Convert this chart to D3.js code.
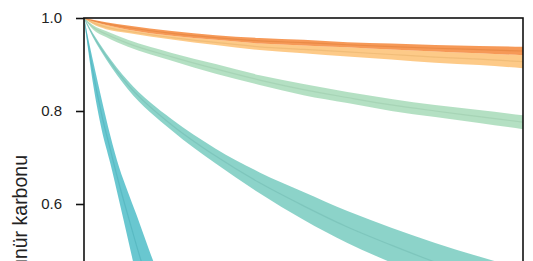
<!DOCTYPE html>
<html>
<head>
<meta charset="utf-8">
<script src="https://cdn.jsdelivr.net/npm/d3@7"></script>
<style>
  body { margin: 0; background: #fff; }
  svg { display: block; font-family: "Liberation Sans", Arial, sans-serif; }
</style>
</head>
<body>
<div id="wrapper"></div>
<script>
// time steps (years) for the slower bands
const years = [0, 2, 5, 10, 20, 30, 40, 50, 60, 70, 80, 90, 100];
// fast band needs finer steps
const yearsFast = [0, 2, 4, 6, 8, 10, 12, 14, 16, 18, 20];

const darkOrangeHi = [1.0, 0.996, 0.991, 0.984, 0.972, 0.963, 0.957, 0.953, 0.948, 0.945, 0.942, 0.940, 0.938];
const darkOrangeLo = [1.0, 0.993, 0.985, 0.975, 0.962, 0.953, 0.945, 0.941, 0.937, 0.932, 0.928, 0.924, 0.920];
const lightOrangeHi = darkOrangeLo;
const lightOrangeLo = [1.0, 0.987, 0.976, 0.968, 0.954, 0.942, 0.931, 0.924, 0.917, 0.911, 0.904, 0.899, 0.892];
const greenHi = [1.0, 0.985, 0.972, 0.953, 0.925, 0.901, 0.877, 0.858, 0.841, 0.826, 0.813, 0.802, 0.791];
const greenLo = [1.0, 0.976, 0.959, 0.938, 0.908, 0.880, 0.856, 0.834, 0.817, 0.800, 0.787, 0.774, 0.761];
const tealHi = [1.0, 0.968, 0.925, 0.865, 0.782, 0.719, 0.668, 0.626, 0.585, 0.549, 0.516, 0.487, 0.460];
const tealLo = [1.0, 0.959, 0.912, 0.847, 0.758, 0.687, 0.623, 0.566, 0.516, 0.474, 0.434, 0.399, 0.366];
const cyanHi = [1.0, 0.910, 0.826, 0.747, 0.679, 0.626, 0.576, 0.523, 0.472, 0.430, 0.390];
const cyanLo = [1.0, 0.862, 0.761, 0.687, 0.607, 0.525, 0.443, 0.370, 0.300, 0.240, 0.190];

const yTicks = [0.0, 0.2, 0.4, 0.6, 0.8, 1.0];
const yLabel = "Kalan görünür karbonu";

let bands = [
  { t: years, hi: greenHi, lo: greenLo, color: "#a7dbb9" },
  { t: years, hi: lightOrangeHi, lo: lightOrangeLo, color: "#fdc173" },
  { t: years, hi: darkOrangeHi, lo: darkOrangeLo, color: "#f5873a" },
  { t: years, hi: tealHi, lo: tealLo, color: "#78cbbf" },
  { t: yearsFast, hi: cyanHi, lo: cyanLo, color: "#4fbdc8" }
];

let dimensions = {
  width: 533,
  height: 261,
  margin: { top: 18, left: 84, right: 10 },
  plotHeight: 465
}
dimensions.boundedWidth = dimensions.width - dimensions.margin.left - dimensions.margin.right;

let wrapper = d3.select("#wrapper").append("svg")
  .attr("width", dimensions.width)
  .attr("height", dimensions.height);

let xScale = d3.scaleLinear()
  .domain([0, 100])
  .range([dimensions.margin.left, dimensions.margin.left + dimensions.boundedWidth]);

let yScale = d3.scaleLinear()
  .domain([0, 1])
  .range([dimensions.margin.top + dimensions.plotHeight, dimensions.margin.top]);

wrapper.append("clipPath").attr("id", "clip")
  .append("rect")
  .attr("x", xScale(0))
  .attr("y", yScale(1))
  .attr("width", xScale(100) - xScale(0))
  .attr("height", yScale(0) - yScale(1));

let plot = wrapper.append("g").attr("clip-path", "url(#clip)");

bands.forEach(b => {
  let rows = b.t.map((t, i) => ({ t: t, hi: b.hi[i], lo: b.lo[i] }));
  let area = d3.area()
    .x(d => xScale(d.t))
    .y0(d => yScale(d.lo))
    .y1(d => yScale(d.hi))
    .curve(d3.curveMonotoneX);
  plot.append("path")
    .datum(rows)
    .attr("d", area)
    .attr("fill", b.color)
    .attr("fill-opacity", 0.85);
  // faint inner line, like overlapping runs
  let mid = d3.line()
    .x(d => xScale(d.t))
    .y(d => yScale((d.hi + d.lo) / 2))
    .curve(d3.curveMonotoneX);
  plot.append("path")
    .datum(rows)
    .attr("d", mid)
    .attr("fill", "none")
    .attr("stroke", d3.color(b.color).darker(0.3))
    .attr("stroke-opacity", 0.45)
    .attr("stroke-width", 1.2);
});

// frame
wrapper.append("rect")
  .attr("x", xScale(0))
  .attr("y", yScale(1))
  .attr("width", xScale(100) - xScale(0))
  .attr("height", yScale(0) - yScale(1))
  .attr("fill", "none")
  .attr("stroke", "#111")
  .attr("stroke-width", 1.6);

let yAxisGen = d3.axisLeft(yScale)
  .tickValues(yTicks)
  .tickFormat(d3.format(".1f"))
  .tickSize(8)
  .tickPadding(14);

let axisY = wrapper.append("g")
  .attr("transform", `translate(${xScale(0)},0)`)
  .call(yAxisGen);
axisY.select(".domain").remove();
axisY.selectAll(".tick line").attr("stroke", "#111").attr("stroke-width", 1.6);
axisY.selectAll(".tick text").attr("fill", "#222").style("font-size", "15px");

wrapper.append("text")
  .attr("transform", "translate(27,155) rotate(-90)")
  .attr("text-anchor", "end")
  .attr("fill", "#222")
  .style("font-size", "19.5px")
  .text(yLabel);
</script>
</body>
</html>
